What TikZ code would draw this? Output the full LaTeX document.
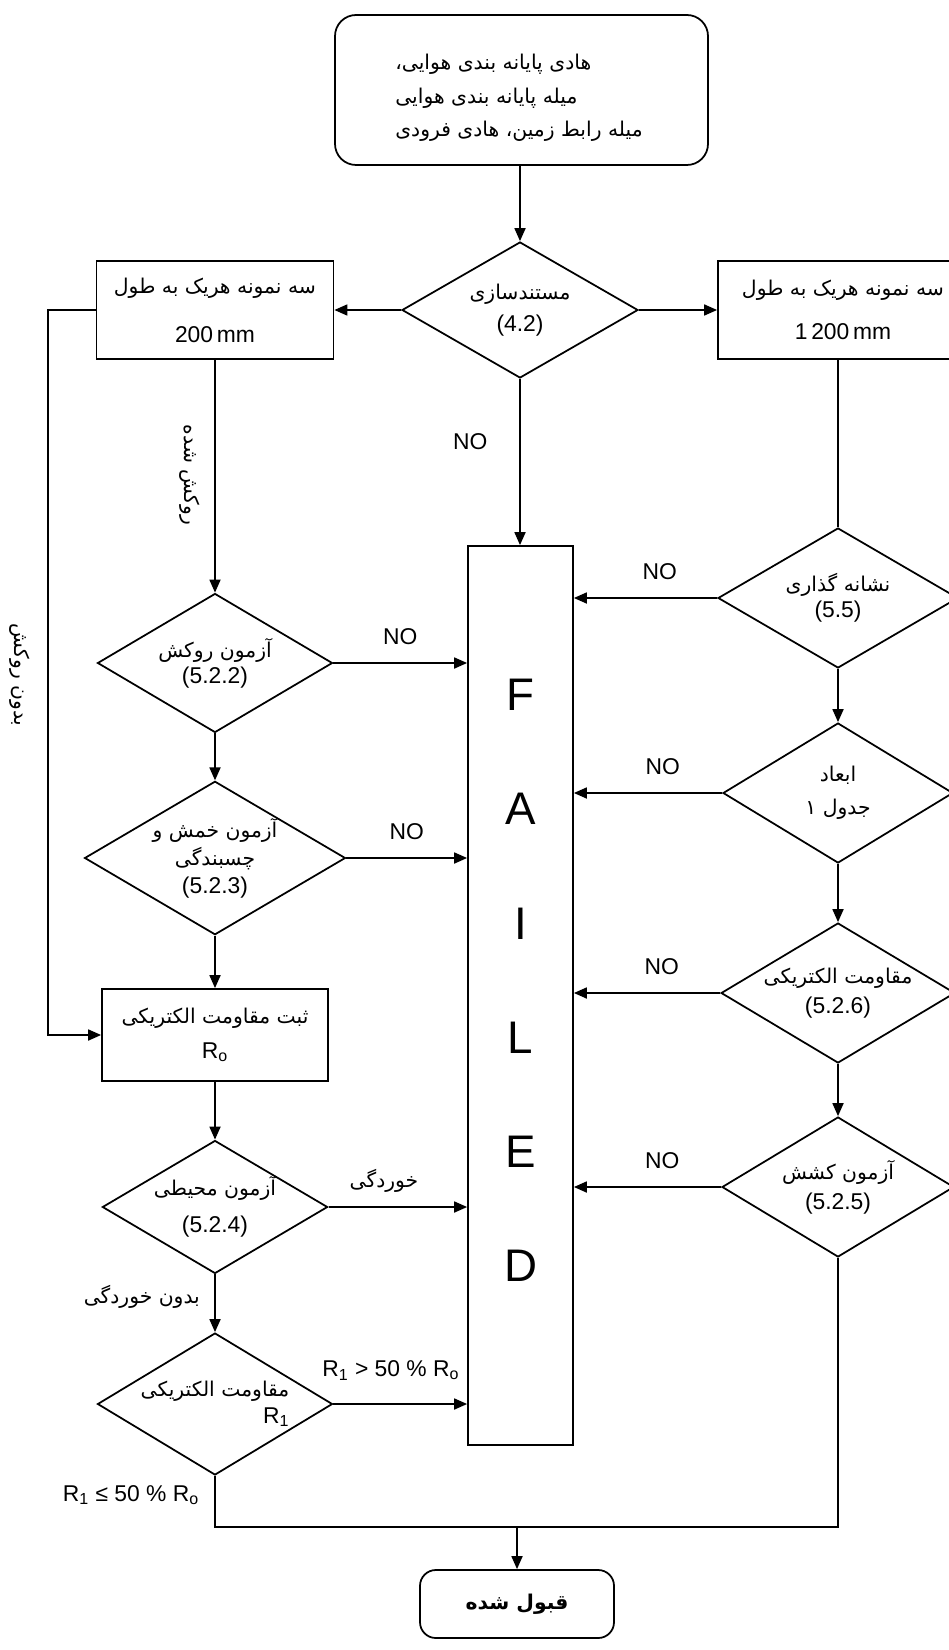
\documentclass[tikz,border=0pt]{standalone}
\usepackage{fontspec}
\setmainfont{Liberation Sans}
\newfontfamily\arabicfont[Script=Arabic,Scale=0.89]{DejaVu Sans}
\TeXXeTstate=1
\newcommand{\fa}[1]{{\arabicfont\beginR #1\endR}}
\usepackage{tikz}
\usetikzlibrary{positioning,arrows.meta,shapes.geometric,calc}

\begin{document}
\begin{tikzpicture}[
    every node/.style={font=\fontsize{13}{17}\selectfont},
    startbox/.style={draw, line width=1pt, rounded corners=12pt,
                     minimum width=7.46cm, minimum height=3.0cm, inner sep=2pt},
    sample/.style={draw, line width=1pt, align=center, minimum width=4.74cm,
                   minimum height=1.96cm, inner sep=2pt},
    test/.style={draw, diamond, line width=1pt, align=center, aspect=1.7,
                 inner sep=0pt, minimum width=4.7cm, minimum height=2.8cm},
    failbox/.style={draw, line width=1pt, align=center, minimum width=2.1cm,
                    minimum height=17.98cm, inner sep=0pt, text depth=0.6cm,
                    font=\fontsize{26}{65}\selectfont},
    endbox/.style={draw, line width=1pt, rounded corners=9pt, minimum width=3.88cm,
                   minimum height=1.36cm, inner sep=2pt},
    lbl/.style={inner sep=1pt},
    arr/.style={-{Triangle[length=2.6mm,width=2.2mm]}, line width=1pt},
    ln/.style={line width=1pt}]
  \useasboundingbox (0,0) rectangle (18.96,-33);
  % top and documentation check
  \node[startbox] (top) at (10.43,-1.8) {};
  \node[align=left, inner sep=0pt] (toptxt) at (10.38,-1.96)
    {\fa{هادی پایانه بندی هوایی،}\\[2pt]\fa{میله پایانه بندی هوایی}\\[2pt]\fa{میله رابط زمین، هادی فرودی}};
  \node[test, minimum width=4.72cm, minimum height=2.72cm] (doc) at (10.4,-6.2)
    {\fa{مستندسازی}\\[1pt](4.2)};
  \node[sample] (lbox) at (4.3,-6.2) {\fa{سه نمونه هریک به طول}\\[11pt]200\,mm};
  \node[sample, minimum width=5.0cm] (rbox) at (16.86,-6.2) {\fa{سه نمونه هریک به طول}\\[8pt]1\,200\,mm};
  \node[failbox] (failed) at (10.41,-19.91) {F\\A\\I\\L\\E\\D};
  % left column
  \node[test, minimum height=2.78cm] (d522) at (4.3,-13.26) {\fa{آزمون روکش}\\[-2pt](5.2.2)};
  \node[test, minimum width=4.44cm, minimum height=2.62cm] (d523) at (4.3,-17.16)
    {\fa{آزمون خمش و}\\[-1pt]\fa{چسبندگی}\\[-1pt](5.2.3)};
  \node[sample, minimum width=4.52cm, minimum height=1.84cm] (r0) at (4.3,-20.7)
    {\fa{ثبت مقاومت الکتریکی}\\[3pt]R\textsubscript{o}};
  \node[test, minimum width=4.48cm, minimum height=2.66cm] (d524) at (4.3,-24.14)
    {\fa{آزمون محیطی}\\[4pt](5.2.4)};
  \node[test, minimum height=2.84cm, align=right] (dr1) at (4.3,-28.08)
    {\fa{مقاومت الکتریکی}\\[-2pt]R\textsubscript{1}};
  % right column
  \node[test, minimum width=4.8cm] (d55) at (16.76,-11.96) {\fa{نشانه گذاری}\\[-2pt](5.5)};
  \node[test, minimum width=4.6cm] (ddim) at (16.76,-15.86) {\fa{ابعاد}\\[2pt]\fa{جدول ۱}};
  \node[test, minimum width=4.64cm] (d526) at (16.76,-19.86) {\fa{مقاومت الکتریکی}\\(5.2.6)};
  \node[test, minimum width=4.64cm] (d525) at (16.76,-23.74) {\fa{آزمون کشش}\\(5.2.5)};
  % accepted
  \node[endbox] (accept) at (10.34,-32.08) {\fa{\bfseries قبول شده}};
  \coordinate (mrg) at (10.34,-30.54);
  \coordinate (byp) at (0.96,-6.2);
  % free labels
  \node[lbl, rotate=-90] (coated) at (3.8,-9.5) {\fa{روکش شده}};
  \node[lbl, rotate=-90] (uncoated) at (0.4,-13.5) {\fa{بدون روکش}};
  \node[lbl, anchor=east] (nocorr) at (4.04,-25.94) {\fa{بدون خوردگی}};
  \node[lbl] (pass) at (2.62,-29.9) {R\textsubscript{1} ≤ 50 \% R\textsubscript{o}};
  % connectors
  \draw[arr] (top.south -| doc.north) -- (doc.north);
  \draw[arr] (doc.west) -- (lbox.east);
  \draw[arr] (doc.east) -- (rbox.west);
  \draw[arr] (doc.south) -- node[lbl, pos=0.38, left=17pt]{NO} (doc.south |- failed.north);
  \draw[arr] (lbox) -- (d522);
  \draw[arr] (d522) -- (d523);
  \draw[arr] (d523) -- (r0);
  \draw[arr] (r0) -- (d524);
  \draw[arr] (d524) -- (dr1);
  \draw[arr] (lbox.west) -- (byp) |- (r0.west);
  \draw[arr] (d522.east) -- node[lbl, above=9pt]{NO} (d522.east -| failed.west);
  \draw[arr] (d523.east) -- node[lbl, above=9pt]{NO} (d523.east -| failed.west);
  \draw[arr] (d524.east) -- node[lbl, pos=0.4, above=7pt]{\fa{خوردگی}} (d524.east -| failed.west);
  \draw[arr] (dr1.east) -- node[lbl, pos=0.43, above=12pt]{R\textsubscript{1} > 50 \% R\textsubscript{o}} (dr1.east -| failed.west);
  \draw[ln] (rbox.south -| d55.north) -- (d55.north);
  \draw[arr] (d55) -- (ddim);
  \draw[arr] (ddim) -- (d526);
  \draw[arr] (d526) -- (d525);
  \draw[arr] (d55.west) -- node[lbl, pos=0.4, above=9pt]{NO} (d55.west -| failed.east);
  \draw[arr] (ddim.west) -- node[lbl, pos=0.4, above=9pt]{NO} (ddim.west -| failed.east);
  \draw[arr] (d526.west) -- node[lbl, pos=0.4, above=9pt]{NO} (d526.west -| failed.east);
  \draw[arr] (d525.west) -- node[lbl, pos=0.4, above=9pt]{NO} (d525.west -| failed.east);
  \draw[ln] (dr1.south) |- (mrg);
  \draw[ln] (d525.south) |- (mrg);
  \draw[arr] (mrg) -- (accept.north);
\end{tikzpicture}
\end{document}
